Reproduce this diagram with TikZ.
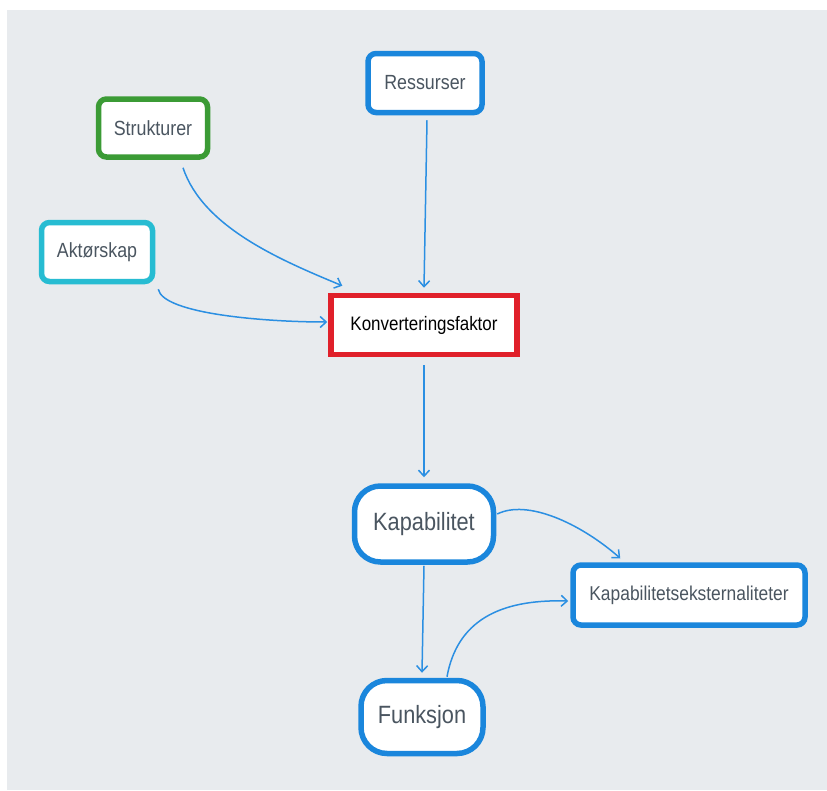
\documentclass[tikz,border=0pt]{standalone}
\usepackage{fontspec}
\setmainfont[FakeStretch=0.87]{Liberation Sans}
\usepackage{tikz}
\usetikzlibrary{arrows.meta}

\definecolor{bgray}{HTML}{E8EBEE}
\definecolor{tgray}{HTML}{4A5560}
\definecolor{mblue}{HTML}{1A86DC}
\definecolor{lblue}{HTML}{2B8FE2}
\definecolor{mgreen}{HTML}{3B9B35}
\definecolor{mcyan}{HTML}{27BCD2}
\definecolor{mred}{HTML}{E0202A}

\begin{document}
\begin{tikzpicture}[x=1pt, y=-1pt,
	box/.style={rectangle, rounded corners=8pt, draw=mblue, fill=white, line width=5.5pt,
		text=tgray, font=\fontsize{20.5}{24}\selectfont},
	bigbox/.style={box, rounded corners=26pt, font=\fontsize{25}{28}\selectfont},
	link/.style={draw=lblue, line width=1.5pt, -{Straight Barb[length=6pt, width=11pt]}}]

	% canvas
	\useasboundingbox (0,0) rectangle (827,790);
	\fill[white] (0,0) rectangle (827,790);
	\fill[bgray] (7,10) rectangle (827,790);

	\node[box, minimum width=114pt, minimum height=59pt] (ressurser) at (425,83) {Ressurser};
	\node[box, draw=mgreen, minimum width=109pt, minimum height=58pt] (strukturer) at (153,128) {Strukturer};
	\node[box, draw=mcyan, minimum width=111pt, minimum height=59pt] (aktorskap) at (97,252) {Aktørskap};
	\node[box, draw=mred, rounded corners=0pt, text=black, font=\fontsize{19.5}{22}\selectfont,
		minimum width=186pt, minimum height=59pt] (konv) at (424,325) {Konverteringsfaktor};

	\node[bigbox, minimum width=139pt, minimum height=76pt] (kapab) at (424,524) {Kapabilitet};
	\node[box, font=\fontsize{20}{24}\selectfont, minimum width=232pt, minimum height=60pt]
		(ekstern) at (689,595) {Kapabilitetseksternaliteter};
	\node[bigbox, minimum width=122pt, minimum height=73pt] (funksjon) at (422,717) {Funksjon};

	% into the conversion factor
	\draw[link] ([xshift=30pt, yshift=-8pt]strukturer.south)
		.. controls +(20,60) and +(-60,-25) .. ([xshift=14pt, yshift=7pt]konv.north west);
	\draw[link] ([xshift=3pt, yshift=-5pt]aktorskap.south east)
		.. controls +(5,25) and +(-60,0) .. ([xshift=-1pt, yshift=3pt]konv.west);
	\draw[link] ([xshift=2pt, yshift=-5pt]ressurser.south) -- ([yshift=5pt]konv.north);

	% out of it
	\draw[link] ([yshift=-8pt]konv.south) -- ([yshift=6pt]kapab.north);
	\draw[link] ([xshift=1pt, yshift=10pt]kapab.east)
		.. controls +(30,-15) and +(-40,-35) .. ([xshift=50pt, yshift=4pt]ekstern.north west);
	\draw[link] ([yshift=-1pt]kapab.south) -- ([yshift=5pt]funksjon.north);
	\draw[link] ([xshift=25pt, yshift=1pt]funksjon.north)
		.. controls +(10,-55) and +(-70,-2) .. ([xshift=-2pt, yshift=-6pt]ekstern.west);

\end{tikzpicture}
\end{document}
